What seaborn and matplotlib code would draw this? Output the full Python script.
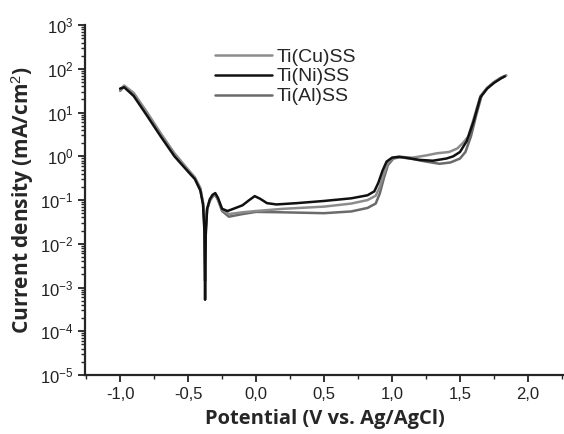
import numpy as np
import pandas as pd
import matplotlib
matplotlib.use("Agg")
import matplotlib.pyplot as plt
import seaborn as sns
from matplotlib.ticker import FixedLocator, LogLocator, FuncFormatter

# potentials (V vs Ag/AgCl) and log10 current density (mA/cm2)
ni_v = [-1.00, -0.97, -0.90, -0.80, -0.70, -0.60, -0.50, -0.45, -0.41, -0.39, -0.38, -0.375,
        -0.37, -0.36, -0.34, -0.32, -0.30, -0.28, -0.25, -0.21, -0.15, -0.10, -0.05, -0.01,
        0.03, 0.08, 0.15, 0.30, 0.50, 0.70, 0.82, 0.87, 0.90, 0.93, 0.96, 1.00, 1.05, 1.10, 1.20,
        1.30, 1.40, 1.45, 1.50, 1.55, 1.60, 1.65, 1.70, 1.75, 1.80, 1.83]
ni_log = [1.55, 1.58, 1.38, 0.92, 0.45, 0.00, -0.35, -0.52, -0.78, -1.10, -1.70, -3.28,
          -1.80, -1.20, -0.98, -0.88, -0.84, -0.95, -1.20, -1.25, -1.18, -1.12, -1.00, -0.91,
          -0.97, -1.07, -1.10, -1.07, -1.02, -0.96, -0.89, -0.80, -0.60, -0.33, -0.12, -0.03, -0.01, -0.03, -0.08,
          -0.10, -0.05, 0.00, 0.10, 0.35, 0.80, 1.35, 1.55, 1.68, 1.78, 1.83]

cu_v = [-1.00, -0.97, -0.90, -0.80, -0.70, -0.60, -0.50, -0.45, -0.41, -0.39, -0.38, -0.375,
        -0.37, -0.36, -0.34, -0.32, -0.30, -0.28, -0.25, -0.20, -0.10, 0.00, 0.20, 0.50,
        0.70, 0.82, 0.88, 0.91, 0.94, 0.97, 1.01, 1.06, 1.15, 1.25, 1.33, 1.42, 1.48, 1.52, 1.56,
        1.60, 1.65, 1.70, 1.75, 1.80, 1.84]
cu_log = [1.52, 1.62, 1.45, 1.00, 0.52, 0.07, -0.30, -0.48, -0.72, -1.05, -1.50, -1.98,
          -1.60, -1.20, -1.00, -0.90, -0.86, -0.98, -1.22, -1.32, -1.28, -1.25, -1.20, -1.15,
          -1.08, -1.00, -0.90, -0.70, -0.40, -0.15, -0.03, -0.01, -0.03, 0.02, 0.07, 0.10, 0.18, 0.30, 0.45,
          0.85, 1.38, 1.57, 1.70, 1.80, 1.85]

al_v = [-1.00, -0.97, -0.90, -0.80, -0.70, -0.60, -0.50, -0.45, -0.41, -0.39, -0.38, -0.375,
        -0.37, -0.36, -0.34, -0.32, -0.30, -0.28, -0.25, -0.20, -0.10, 0.00, 0.20, 0.50,
        0.70, 0.82, 0.88, 0.91, 0.94, 0.97, 1.01, 1.06, 1.15, 1.25, 1.35, 1.43, 1.50, 1.54, 1.58,
        1.62, 1.66, 1.70, 1.75, 1.80, 1.84]
al_log = [1.50, 1.60, 1.43, 0.97, 0.50, 0.04, -0.32, -0.50, -0.75, -1.08, -1.60, -2.85,
          -1.70, -1.22, -1.02, -0.92, -0.88, -1.00, -1.25, -1.38, -1.32, -1.27, -1.28, -1.30,
          -1.26, -1.18, -1.08, -0.85, -0.50, -0.20, -0.05, -0.02, -0.06, -0.12, -0.17, -0.14, -0.05, 0.10, 0.45,
          0.95, 1.40, 1.56, 1.69, 1.79, 1.85]

labels = ["Ti(Cu)SS", "Ti(Ni)SS", "Ti(Al)SS"]
colors = {"Ti(Cu)SS": "#8c8c8c", "Ti(Ni)SS": "#111111", "Ti(Al)SS": "#6a6a6a"}

rows = []
for name, vs, ls in [("Ti(Cu)SS", cu_v, cu_log), ("Ti(Ni)SS", ni_v, ni_log), ("Ti(Al)SS", al_v, al_log)]:
    for i, (v, l) in enumerate(zip(vs, ls)):
        rows.append({"sample": name, "order": i, "E": v, "i": 10 ** l})
df = pd.DataFrame(rows)

sns.set_style("ticks")
plt.rcParams["font.family"] = ["Liberation Sans", "DejaVu Sans"]
plt.rcParams["mathtext.fontset"] = "custom"
plt.rcParams["mathtext.rm"] = "Liberation Sans"
plt.rcParams["mathtext.it"] = "Liberation Sans"

fig = plt.figure(figsize=(5.64, 4.34), dpi=100)
ax = fig.add_axes([0.151, 0.136, 0.849, 0.806])

for name in ["Ti(Al)SS", "Ti(Cu)SS", "Ti(Ni)SS"]:
    sub = df[df["sample"] == name]
    sns.lineplot(data=sub, x="E", y="i", sort=False, estimator=None, color=colors[name],
                 lw=1.8, ax=ax, label=name)

ax.set_yscale("log")
ax.set_ylim(1e-5, 1e3)
ax.set_xlim(-1.257, 2.265)

ax.xaxis.set_major_locator(FixedLocator([-1.0, -0.5, 0.0, 0.5, 1.0, 1.5, 2.0]))
ax.xaxis.set_minor_locator(FixedLocator([-1.25, -0.75, -0.25, 0.25, 0.75, 1.25, 1.75, 2.25]))
ax.xaxis.set_major_formatter(FuncFormatter(lambda v, p: f"{v:.1f}".replace(".", ",")))
ax.yaxis.set_major_locator(LogLocator(base=10, numticks=20))
ax.yaxis.set_minor_locator(LogLocator(base=10, subs=np.arange(2, 10), numticks=20))
ax.yaxis.set_major_formatter(FuncFormatter(lambda v, p: r"$10^{%d}$" % round(np.log10(v))))

ax.tick_params(which="major", direction="out", length=5, width=1.3, labelsize=12, colors="#222222")
ax.tick_params(which="minor", direction="out", length=3, width=1.0)
for s in ["top", "right"]:
    ax.spines[s].set_visible(False)
for s in ["left", "bottom"]:
    ax.spines[s].set_linewidth(1.6)

ax.set_xlabel("Potential (V vs. Ag/AgCl)", fontsize=14.5, fontweight="bold",
              family=["Open Sans", "DejaVu Sans"], labelpad=5)
ax.set_ylabel("Current density (mA/cm$^2$)", fontsize=15, fontweight="bold",
              family=["Open Sans", "DejaVu Sans"], labelpad=3)

h, l = ax.get_legend_handles_labels()
order = [l.index(n) for n in labels]
ax.legend([h[i] for i in order], labels, loc="upper left", bbox_to_anchor=(0.235, 0.985),
          frameon=False, fontsize=14, handlelength=2.9, handletextpad=0.25, labelspacing=0.12)

fig.savefig("out.png", dpi=100)
